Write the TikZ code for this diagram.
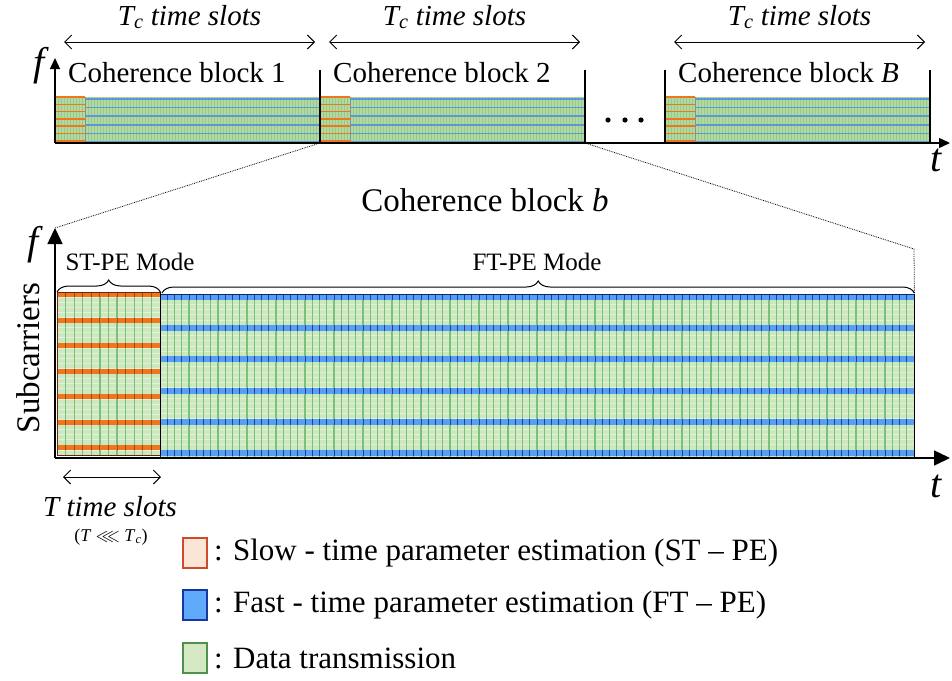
\documentclass[tikz,border=0pt]{standalone}
\usepackage{amssymb}
\usepackage{fontspec}
\setmainfont{Liberation Serif}
\usetikzlibrary{calc, arrows.meta, decorations.pathreplacing}

\definecolor{topgreen}{RGB}{176,218,160}
\definecolor{topgrid}{RGB}{150,200,140}
\definecolor{topblue}{RGB}{95,150,215}
\definecolor{stOrange}{RGB}{240,118,30}
\definecolor{stDark}{RGB}{180,60,20}
\definecolor{ftBlue}{RGB}{85,160,245}
\definecolor{ftDark}{RGB}{30,60,170}
\definecolor{dataGreen}{RGB}{205,232,190}
\definecolor{gridline}{RGB}{120,195,120}
\definecolor{gridlight}{RGB}{228,242,218}
\definecolor{stEdge}{RGB}{205,75,40}
\definecolor{stLight}{RGB}{251,229,214}
\definecolor{ftEdge}{RGB}{25,55,160}
\definecolor{ftLight}{RGB}{95,170,250}
\definecolor{dtEdge}{RGB}{80,145,75}
\definecolor{dtLight}{RGB}{213,232,196}

\begin{document}
\begin{tikzpicture}[x=1pt, y=-1pt,
    every node/.style={inner sep=0pt},
    blocklabel/.style={font=\fontsize{29}{32}\selectfont, anchor=west},
    slotlabel/.style={font=\fontsize{29}{32}\selectfont\itshape},
    axislabel/.style={font=\fontsize{40}{44}\selectfont\itshape},
    modelabel/.style={font=\fontsize{25}{28}\selectfont},
    legendtext/.style={font=\fontsize{31}{34}\selectfont, anchor=west},
    legendbox/.style={line width=2pt, minimum width=24, minimum height=30},
    smallaxis/.style={line width=1.3pt, -{Triangle[length=11pt, width=10pt]}},
    bigaxis/.style={line width=1.5pt, -{Triangle[length=16pt, width=15pt]}},
    span/.style={line width=1pt, {Straight Barb[length=7pt, width=14pt]}-{Straight Barb[length=7pt, width=14pt]}},
    zoomline/.style={densely dotted, line width=0.8pt},
    modebrace/.style={decorate, decoration={brace, amplitude=12pt}, line width=1pt}]

        \useasboundingbox (0,0) rectangle (952,680);

        %% Coherence blocks on top
        \foreach \L/\n/\txt in {55/1/1, 320/2/2, 665/B/\textit{B}} {
            \fill[topgreen] (\L,97) rectangle ({\L+265},143);
            \foreach \i in {1,...,88} \draw[topgrid, line width=0.5pt] ({\L+\i*3},97) -- ({\L+\i*3},143);
            \foreach \k in {0,...,6} \draw[stOrange, line width=1.5pt] (\L,{97+\k*7.3}) -- ({\L+30},{97+\k*7.3});
            \foreach \k in {0,...,5} \draw[topblue, line width=1.5pt] ({\L+30},{99+\k*8.6}) -- ({\L+265},{99+\k*8.6});
            \draw[black!45, line width=0.8pt] ({\L+30},97) -- ({\L+30},143);
            \node (blk\n) [blocklabel] at ({\L+13},73) {Coherence block \txt};
            \coordinate (spanL\n) at ({\L+9},42);
            \coordinate (spanR\n) at ({\L+260},42);
            \draw[span] (spanL\n) -- (spanR\n);
            \node (slots\n) [slotlabel] at ({\L+134.5},17) {T\textsubscript{c} time slots};
        }

        %% Block borders
        \foreach \x in {320,585,665,930} \draw[line width=1.2pt] (\x,70) -- (\x,143);

        %% Dots
        \foreach \x in {608,625,641} \fill (\x,120) circle (2.6);

        %% Top axes
        \coordinate (topO) at (55,143);
        \coordinate (topFtip) at (55,58);
        \coordinate (topTtip) at (950,143);
        \draw[smallaxis] (topO) -- (topFtip);
        \draw[smallaxis] (topO) -- (topTtip);
        \node (fTop) [axislabel] at (39,66) {f};
        \node (tTop) [axislabel] at (936,160) {t};

        %% Coherence block b
        \node (blkb) [font=\fontsize{33}{36}\selectfont] at (485,200) {Coherence block \textit{b}};

        %% Zoomed block
        \node (stBlock) [anchor=north west, minimum width=103, minimum height=163] at (57,292) {};
        \node (ftBlock) [anchor=north west, minimum width=754, minimum height=163] at (160,294) {};

        % ST-PE part
        \fill[dataGreen] (57,292) rectangle (160,455);
        \foreach \k in {1,...,31} \draw[gridlight, line width=1pt] (57,{292+\k*5.1}) -- (160,{292+\k*5.1});
        \foreach \i in {1,...,11} \draw[gridline, line width=1.2pt] ({57+\i*8.58},292) -- ++(0,163);
        \foreach \k in {0,...,6} {
            \fill[stOrange] (57,{292+\k*25.5}) rectangle (160,{297+\k*25.5});
            \foreach \i in {1,...,11} \draw[stDark, line width=1pt] ({57+\i*8.58},{292+\k*25.5}) -- ++(0,5);
        }

        % FT-PE part
        \fill[dataGreen] (160,294) rectangle (914,457);
        \foreach \k in {1,...,30} \draw[gridlight, line width=1pt] (160,{294+\k*5.2}) -- (914,{294+\k*5.2});
        \foreach \i in {1,...,103} \draw[gridline, line width=1.1pt] ({160+\i*7.25},294) -- ++(0,163);
        \foreach \k in {0,...,5} {
            \fill[ftBlue] (160,{294+\k*31.2}) rectangle (914,{300+\k*31.2});
            \foreach \i in {1,...,103} \draw[ftDark, line width=1pt] ({160+\i*7.25},{294+\k*31.2}) -- ++(0,6);
        }

        % outlines
        \draw[stDark!60!black, line width=0.8pt] (stBlock.north west) rectangle (stBlock.south east);
        \draw[ftDark!60!black, line width=0.8pt] (ftBlock.north west) rectangle (ftBlock.south east);
        \draw[line width=1.6pt] (stBlock.north east) -- (stBlock.south east);
        \draw[line width=1.6pt] (ftBlock.north east) -- (ftBlock.south east);

        %% Bottom axes
        \coordinate (botO) at (55,458);
        \coordinate (botFtip) at (55,228);
        \coordinate (botTtip) at (950,458);
        \draw[bigaxis] (botO) -- (botFtip);
        \draw[bigaxis] (botO) -- (botTtip);
        \node (fBot) [axislabel] at (33,245) {f};
        \node (tBot) [axislabel] at (936,486) {t};
        \node (subc) [rotate=90, font=\fontsize{33}{36}\selectfont] at (28,358) {Subcarriers};

        %% Zoom lines
        \coordinate (zoomL) at (320,143);
        \coordinate (zoomR) at (585,143);
        \coordinate (zoomBend) at (914,249);
        \draw[zoomline] (zoomL) -- (botFtip);
        \draw[zoomline] (zoomR) -- (zoomBend) -- (ftBlock.north east);

        %% Modes
        \draw[modebrace] (stBlock.north west) -- (stBlock.north east);
        \draw[modebrace] ($(ftBlock.north west)+(2,-1)$) -- ($(ftBlock.north east)+(0,-1)$);
        \node (stMode) [modelabel] at (130,262) {ST-PE Mode};
        \node (ftMode) [modelabel] at (537,262) {FT-PE Mode};

        %% T time slots
        \coordinate (tspanL) at (63,477);
        \coordinate (tspanR) at (161,477);
        \draw[span] (tspanL) -- (tspanR);
        \node (tslots) [slotlabel] at (110,507) {T time slots};
        \node (tcond) [font=\fontsize{18}{20}\selectfont] at (111,537) {(\textit{T} $\lll$ \textit{T}\textsubscript{\textit{c}})};

        %% Legend
        \node (stKey) [legendbox, draw=stEdge, fill=stLight] at (195,553) {};
        \node (ftKey) [legendbox, draw=ftEdge, fill=ftLight] at (195,605) {};
        \node (dtKey) [legendbox, draw=dtEdge, fill=dtLight] at (195,658) {};
        \node (stText) [legendtext] at (214,553) {: Slow - time parameter estimation (ST -- PE)};
        \node (ftText) [legendtext] at (214,605) {: Fast - time parameter estimation (FT -- PE)};
        \node (dtText) [legendtext] at (214,658) {: Data transmission};

\end{tikzpicture}
\end{document}
